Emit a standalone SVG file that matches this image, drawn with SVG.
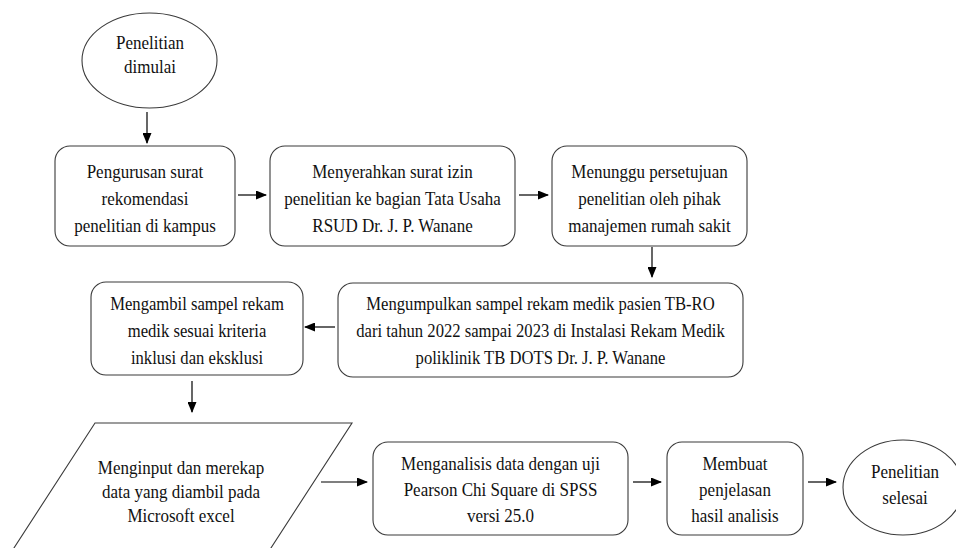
<svg xmlns="http://www.w3.org/2000/svg" width="956" height="548" viewBox="0 0 956 548">
<defs>
<marker id="ah" markerWidth="11" markerHeight="9" refX="10" refY="4.5" orient="auto" markerUnits="userSpaceOnUse">
<path d="M0,0 L11,4.5 L0,9 z" fill="#000"/>
</marker>
<style>
.n{fill:#fff;stroke:#3a3a3a;stroke-width:1.1}
.t{font-family:"Liberation Serif","Times New Roman",serif;font-size:18.5px;fill:#111;text-anchor:middle}
.c{stroke:#000;stroke-width:1.2;fill:none;marker-end:url(#ah)}
</style>
</defs>
<rect width="956" height="548" fill="#fff"/>
<g id="connectors">
<line class="c" x1="147" y1="112" x2="147" y2="143"/>
<line class="c" x1="238" y1="195" x2="266" y2="195"/>
<line class="c" x1="519" y1="195" x2="548" y2="195"/>
<line class="c" x1="652" y1="247" x2="652" y2="277"/>
<line class="c" x1="335" y1="327" x2="305" y2="327"/>
<line class="c" x1="192" y1="381" x2="192" y2="412"/>
<line class="c" x1="321" y1="482" x2="367" y2="482"/>
<line class="c" x1="633" y1="482" x2="661" y2="482"/>
<line class="c" x1="808" y1="482" x2="836" y2="482"/>
</g>
<g id="start">
<ellipse class="n" cx="149.5" cy="60.5" rx="67.5" ry="47.5"/>
<g transform="translate(150,0) scale(0.92,1)">
<text class="t" x="0" y="49">Penelitian</text>
<text class="t" x="0" y="73">dimulai</text>
</g>
</g>
<g id="box1">
<rect class="n" x="55" y="146" width="180" height="100" rx="15"/>
<g transform="translate(145,0) scale(0.92,1)">
<text class="t" x="0" y="178">Pengurusan surat</text>
<text class="t" x="0" y="205">rekomendasi</text>
<text class="t" x="0" y="232">penelitian di kampus</text>
</g>
</g>
<g id="box2">
<rect class="n" x="270" y="146" width="245" height="100" rx="15"/>
<g transform="translate(392.5,0) scale(0.92,1)">
<text class="t" x="0" y="178">Menyerahkan surat izin</text>
<text class="t" x="0" y="205">penelitian ke bagian Tata Usaha</text>
<text class="t" x="0" y="232">RSUD Dr. J. P. Wanane</text>
</g>
</g>
<g id="box3">
<rect class="n" x="552" y="146" width="195" height="100" rx="15"/>
<g transform="translate(649.5,0) scale(0.92,1)">
<text class="t" x="0" y="178">Menunggu persetujuan</text>
<text class="t" x="0" y="205">penelitian oleh pihak</text>
<text class="t" x="0" y="232">manajemen rumah sakit</text>
</g>
</g>
<g id="box4">
<rect class="n" x="338" y="283" width="405" height="94" rx="15"/>
<g transform="translate(540.5,0) scale(0.9,1)">
<text class="t" x="0" y="310">Mengumpulkan sampel rekam medik pasien TB-RO</text>
<text class="t" x="0" y="337">dari tahun 2022 sampai 2023 di Instalasi Rekam Medik</text>
<text class="t" x="0" y="364">poliklinik TB DOTS Dr. J. P. Wanane</text>
</g>
</g>
<g id="box5">
<rect class="n" x="91" y="282" width="212" height="93" rx="15"/>
<g transform="translate(197,0) scale(0.9,1)">
<text class="t" x="0" y="310">Mengambil sampel rekam</text>
<text class="t" x="0" y="337">medik sesuai kriteria</text>
<text class="t" x="0" y="364">inklusi dan eksklusi</text>
</g>
</g>
<g id="input">
<polygon class="n" points="95,423 352,423 269,551 12,551"/>
<g transform="translate(181,0) scale(0.92,1)">
<text class="t" x="0" y="474">Menginput dan merekap</text>
<text class="t" x="0" y="498">data yang diambil pada</text>
<text class="t" x="0" y="522">Microsoft excel</text>
</g>
</g>
<g id="box6">
<rect class="n" x="373" y="442" width="255" height="93" rx="15"/>
<g transform="translate(500.5,0) scale(0.92,1)">
<text class="t" x="0" y="470">Menganalisis data dengan uji</text>
<text class="t" x="0" y="496">Pearson Chi Square di SPSS</text>
<text class="t" x="0" y="522">versi 25.0</text>
</g>
</g>
<g id="box7">
<rect class="n" x="667" y="442" width="136" height="93" rx="15"/>
<g transform="translate(735,0) scale(0.92,1)">
<text class="t" x="0" y="470">Membuat</text>
<text class="t" x="0" y="496">penjelasan</text>
<text class="t" x="0" y="522">hasil analisis</text>
</g>
</g>
<g id="end">
<ellipse class="n" cx="903" cy="487.5" rx="60" ry="47.5"/>
<g transform="translate(905,0) scale(0.92,1)">
<text class="t" x="0" y="478">Penelitian</text>
<text class="t" x="0" y="504">selesai</text>
</g>
</g>
</svg>
